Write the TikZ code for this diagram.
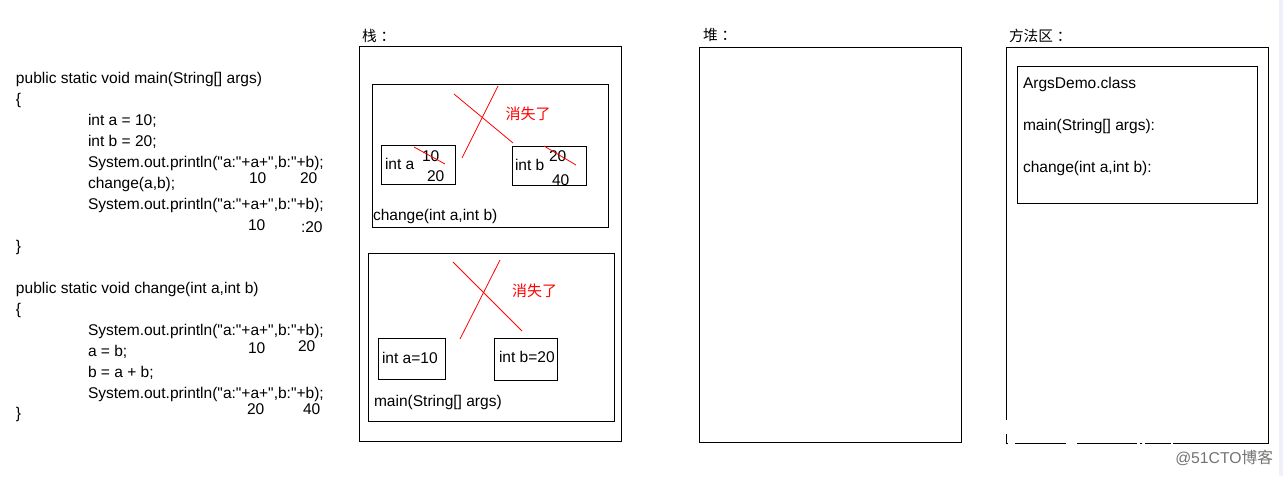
\documentclass[tikz,border=0pt]{standalone}
\usepackage{fontspec}
\setmainfont[Ligatures=TeXOff]{Liberation Sans}
\newfontfamily\cjk{Noto Sans CJK SC}
\definecolor{stripcol}{RGB}{238,241,250}
\tikzset{
    area/.style={draw=black, line width=0.8pt, anchor=north west, inner sep=0pt, outer sep=0pt},
    txt/.style={anchor=base west, inner sep=0pt, outer sep=0pt, font=\fontsize{11.65pt}{13pt}\selectfont},
    cn/.style={anchor=base west, inner sep=0pt, outer sep=0pt, font=\fontsize{11pt}{13pt}\cjk},
    gone/.style={anchor=center, inner sep=0pt, outer sep=0pt, text=red, font=\fontsize{11.25pt}{13pt}\cjk},
    cross/.style={draw=red, line width=0.6pt}
}
\begin{document}
\begin{tikzpicture}[x=0.75pt, y=-0.75pt]
    \useasboundingbox (0,0) rectangle (1283,476);
    \fill[stripcol] (1279,0) rectangle (1283,476);
    % code
    \foreach \i/\x/\y/\t in {1/16/83/{public static void main(String[] args)},2/16/104/\{,3/88/125/{int a = 10;},4/88/146/{int b = 20;},5/88/167/{System.out.println("a:"+a+",b:"+b);},6/88/188/{change(a,b);},7/88/209/{System.out.println("a:"+a+",b:"+b);},8/16/251/\},9/16/293/{public static void change(int a,int b)},10/16/314/\{,11/88/335/{System.out.println("a:"+a+",b:"+b);},12/88/356/{a = b;},13/88/377/{b = a + b;},14/88/398/{System.out.println("a:"+a+",b:"+b);},15/16/418/\}}
        \node[txt] (code\i) at (\x,\y) {\t};
    \foreach \i/\x/\y/\t in {1/249/183/10,2/300/183/20,3/248/230/10,4/301/232/{:20},5/248/353/10,6/298/351/20,7/247/414/20,8/303/414/40}
        \node[txt] (val\i) at (\x,\y) {\t};
    % areas
    \node[cn] (stacktitle) at (362,41) {栈\hspace{3pt}：};
    \node[cn] (heaptitle) at (703,40) {堆\hspace{3pt}：};
    \node[cn] (methodtitle) at (1009,41) {方法区\hspace{3pt}：};
    \node[area, minimum width=196.5pt, minimum height=296.25pt] (stack) at (359.5,46.5) {};
    \node[area, minimum width=196.5pt, minimum height=296.25pt] (heap) at (699.5,47.5) {};
    \node[area, minimum width=196.5pt, minimum height=297pt] (method) at (1006.5,47.5) {};
    \node[area, minimum width=180pt, minimum height=102.75pt] (classbox) at (1017.5,66.5) {};
    \node[txt] (cls1) at (1023,88) {ArgsDemo.class};
    \node[txt] (cls2) at (1023,130) {main(String[] args):};
    \node[txt] (cls3) at (1023,172) {change(int a,int b):};
    % change frame
    \node[area, minimum width=177pt, minimum height=107.25pt] (chg) at (372.5,84.5) {};
    \node[area, minimum width=55.5pt, minimum height=29.25pt] (chga) at (381.5,145.5) {};
    \node[area, minimum width=55.5pt, minimum height=29.25pt] (chgb) at (512.5,146.5) {};
    \node[txt] (chgname) at (373,220) {change(int a,int b)};
    \node[txt] (chgalab) at (385,169) {int a};
    \node[txt] (chga1) at (422,161) {10};
    \node[txt] (chga2) at (427,181) {20};
    \node[txt] (chgblab) at (515,170) {int b};
    \node[txt] (chgb1) at (549,161) {20};
    \node[txt] (chgb2) at (552,185) {40};
    \node[gone] (chggone) at (528,114) {消失了};
    \draw[cross] (454,94) -- (513,143);
    \draw[cross] (498,86) -- (462,158);
    \draw[cross] (414,147) -- (445,164);
    \draw[cross] (544,146) -- (576,165);
    % main frame
    \node[area, minimum width=184.5pt, minimum height=126pt] (mainf) at (368.5,253.5) {};
    \node[area, minimum width=50.25pt, minimum height=30.75pt] (maina) at (378.5,338.5) {};
    \node[area, minimum width=47.25pt, minimum height=31.5pt] (mainb) at (494.5,338.5) {};
    \node[txt] (mainalab) at (382,363) {int a=10};
    \node[txt] (mainblab) at (499,362) {int b=20};
    \node[txt] (mainname) at (374,406) {main(String[] args)};
    \node[gone] (maingone) at (534.5,291) {消失了};
    \draw[cross] (453,262) -- (522,331);
    \draw[cross] (500,260) -- (460,339);
    % watermark
    \foreach \x/\w in {1008/7,1066/11,1137/3,1142/3,1171/2}
        \fill[white] (\x,442) rectangle ++(\w,2);
    \fill[white] (1005,420) rectangle (1008,434);
    \node[anchor=base west, inner sep=0pt, text=black!55, font=\fontsize{11.8pt}{13pt}\selectfont] (mark) at (1175,463) {@51CTO{\cjk 博客}};
\end{tikzpicture}
\end{document}
